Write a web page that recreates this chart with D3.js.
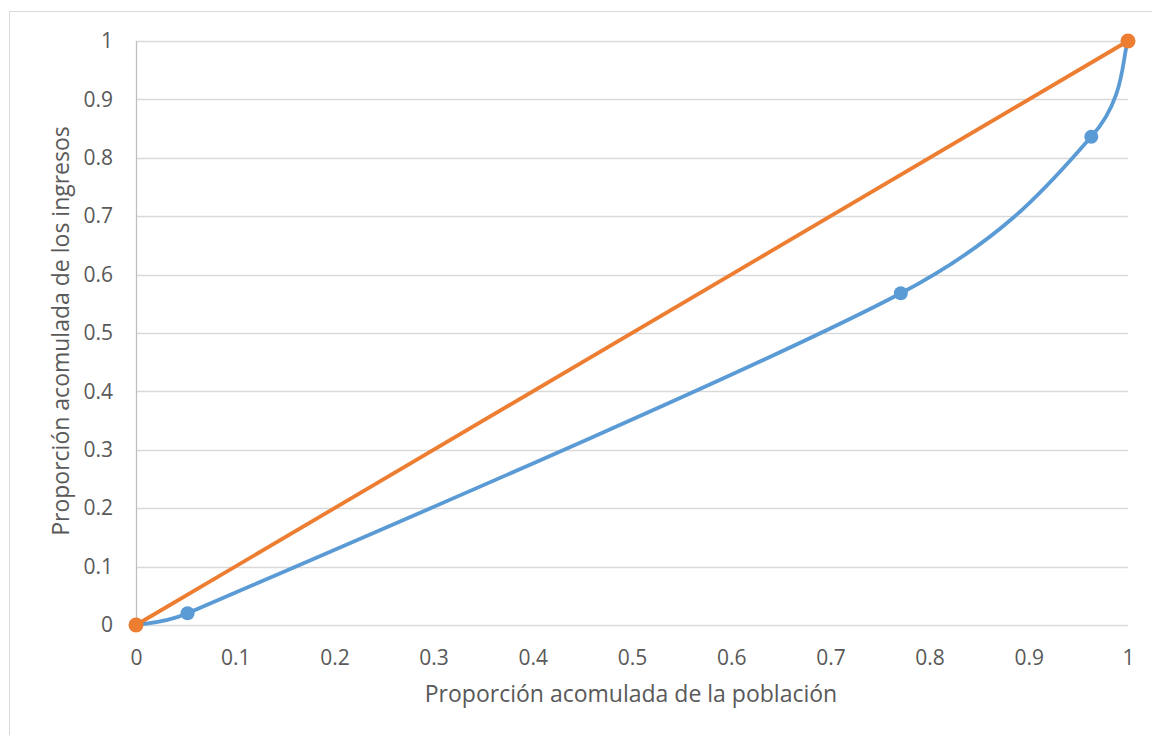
<!DOCTYPE html>
<html>
<head>
<meta charset="utf-8">
<script src="https://cdn.jsdelivr.net/npm/d3@7"></script>
<style>
  html, body { margin: 0; padding: 0; background: #fff; }
  svg { display: block; }
</style>
</head>
<body>
<svg id="chart" width="1152" height="735"></svg>
<script>
// Curva de Lorenz: población acumulada vs. ingresos acumulados
const poblacion = [0, 0.052, 0.771, 0.963, 1];
const ingresos  = [0, 0.020, 0.568, 0.836, 1];
const igualdadX = [0, 1];
const igualdadY = [0, 1];
const ticks = [0, 0.1, 0.2, 0.3, 0.4, 0.5, 0.6, 0.7, 0.8, 0.9, 1];

const svg = d3.select("#chart");
const font = "'Open Sans', 'Liberation Sans', sans-serif";
const textColor = "#595959";

// Spreadsheet-style smoothing: cubic Bézier segments whose control points
// follow the neighbour chord (1/6 of it), capped at half the segment length.
function curveSmoothSheet(context) {
  let pts = [];
  return {
    areaStart() {}, areaEnd() {},
    lineStart() { pts = []; },
    point(x, y) { pts.push([+x, +y]); },
    lineEnd() {
      const n = pts.length;
      if (!n) return;
      context.moveTo(pts[0][0], pts[0][1]);
      const dist = (a, b) => Math.hypot(b[0] - a[0], b[1] - a[1]);
      for (let i = 0; i < n - 1; i++) {
        const p0 = pts[Math.max(0, i - 1)], p1 = pts[i],
              p2 = pts[i + 1], p3 = pts[Math.min(n - 1, i + 2)];
        const d12 = dist(p1, p2), d02 = dist(p0, p2), d13 = dist(p1, p3);
        let f = 1 / 6, g = 1 / 6;
        if (d02 / 6 > d12 / 2) f = d02 > 0 ? (d12 / 2) / d02 : 0;
        if (d13 / 6 > d12 / 2) g = d13 > 0 ? (d12 / 2) / d13 : 0;
        const c1 = [p1[0] + f * (p2[0] - p0[0]), p1[1] + f * (p2[1] - p0[1])];
        const c2 = [p2[0] - g * (p3[0] - p1[0]), p2[1] - g * (p3[1] - p1[1])];
        context.bezierCurveTo(c1[0], c1[1], c2[0], c2[1], p2[0], p2[1]);
      }
    }
  };
}

// chart frame (extends past the visible window on right/bottom)
svg.append("rect")
  .attr("x", 9.5).attr("y", 11.5)
  .attr("width", 1160).attr("height", 740)
  .attr("fill", "#fff").attr("stroke", "#d9d9d9").attr("stroke-width", 1);

const x = d3.scaleLinear().domain([0, 1]).range([136, 1128]);
const y = d3.scaleLinear().domain([0, 1]).range([625, 41]);

// horizontal gridlines
svg.append("g").selectAll("line").data(ticks).join("line")
  .attr("x1", x(0)).attr("x2", x(1))
  .attr("y1", d => Math.round(y(d)) + 0.5).attr("y2", d => Math.round(y(d)) + 0.5)
  .attr("stroke", "#d9d9d9").attr("stroke-width", 1.3);

// vertical axis line
svg.append("line")
  .attr("x1", x(0) + 0.5).attr("x2", x(0) + 0.5)
  .attr("y1", y(1)).attr("y2", y(0))
  .attr("stroke", "#bfbfbf").attr("stroke-width", 1.3);

// axes via d3 (labels only, no tick marks or domain)
const fmt = d => d3.format("")(+d.toFixed(1));
const yAxis = svg.append("g")
  .attr("transform", `translate(${x(0)},0)`)
  .call(d3.axisLeft(y).tickValues(ticks).tickSize(0).tickPadding(23).tickFormat(fmt));
const xAxis = svg.append("g")
  .attr("transform", `translate(0,${y(0)})`)
  .call(d3.axisBottom(x).tickValues(ticks).tickSize(0).tickPadding(25).tickFormat(fmt));
[yAxis, xAxis].forEach(a => {
  a.select(".domain").remove();
  a.selectAll("text")
    .attr("fill", textColor)
    .style("font-family", font)
    .style("font-size", "21px");
});

// axis titles
svg.append("text")
  .attr("x", 631).attr("y", 702)
  .attr("text-anchor", "middle")
  .attr("fill", textColor)
  .style("font-family", font).style("font-size", "23px")
  .text("Proporción acomulada de la población");
svg.append("text")
  .attr("transform", "translate(69,331) rotate(-90)")
  .attr("text-anchor", "middle")
  .attr("fill", textColor)
  .style("font-family", font).style("font-size", "23px")
  .text("Proporción acomulada de los ingresos");

// Lorenz curve (smoothed)
const lorenz = poblacion.map((p, i) => [p, ingresos[i]]);
const line = d3.line().x(d => x(d[0])).y(d => y(d[1]));
svg.append("path")
  .datum(lorenz)
  .attr("d", line.curve(curveSmoothSheet))
  .attr("fill", "none").attr("stroke", "#5b9bd5").attr("stroke-width", 3.8)
  .attr("stroke-linecap", "round");
svg.append("g").selectAll("circle").data(lorenz).join("circle")
  .attr("cx", d => x(d[0])).attr("cy", d => y(d[1])).attr("r", 7)
  .attr("fill", "#5b9bd5");

// line of equality
const igualdad = igualdadX.map((p, i) => [p, igualdadY[i]]);
svg.append("path")
  .datum(igualdad)
  .attr("d", d3.line().x(d => x(d[0])).y(d => y(d[1]))(igualdad))
  .attr("fill", "none").attr("stroke", "#ed7d31").attr("stroke-width", 3.8);
svg.append("g").selectAll("circle").data(igualdad).join("circle")
  .attr("cx", d => x(d[0])).attr("cy", d => y(d[1])).attr("r", 7.5)
  .attr("fill", "#ed7d31");
</script>
</body>
</html>
